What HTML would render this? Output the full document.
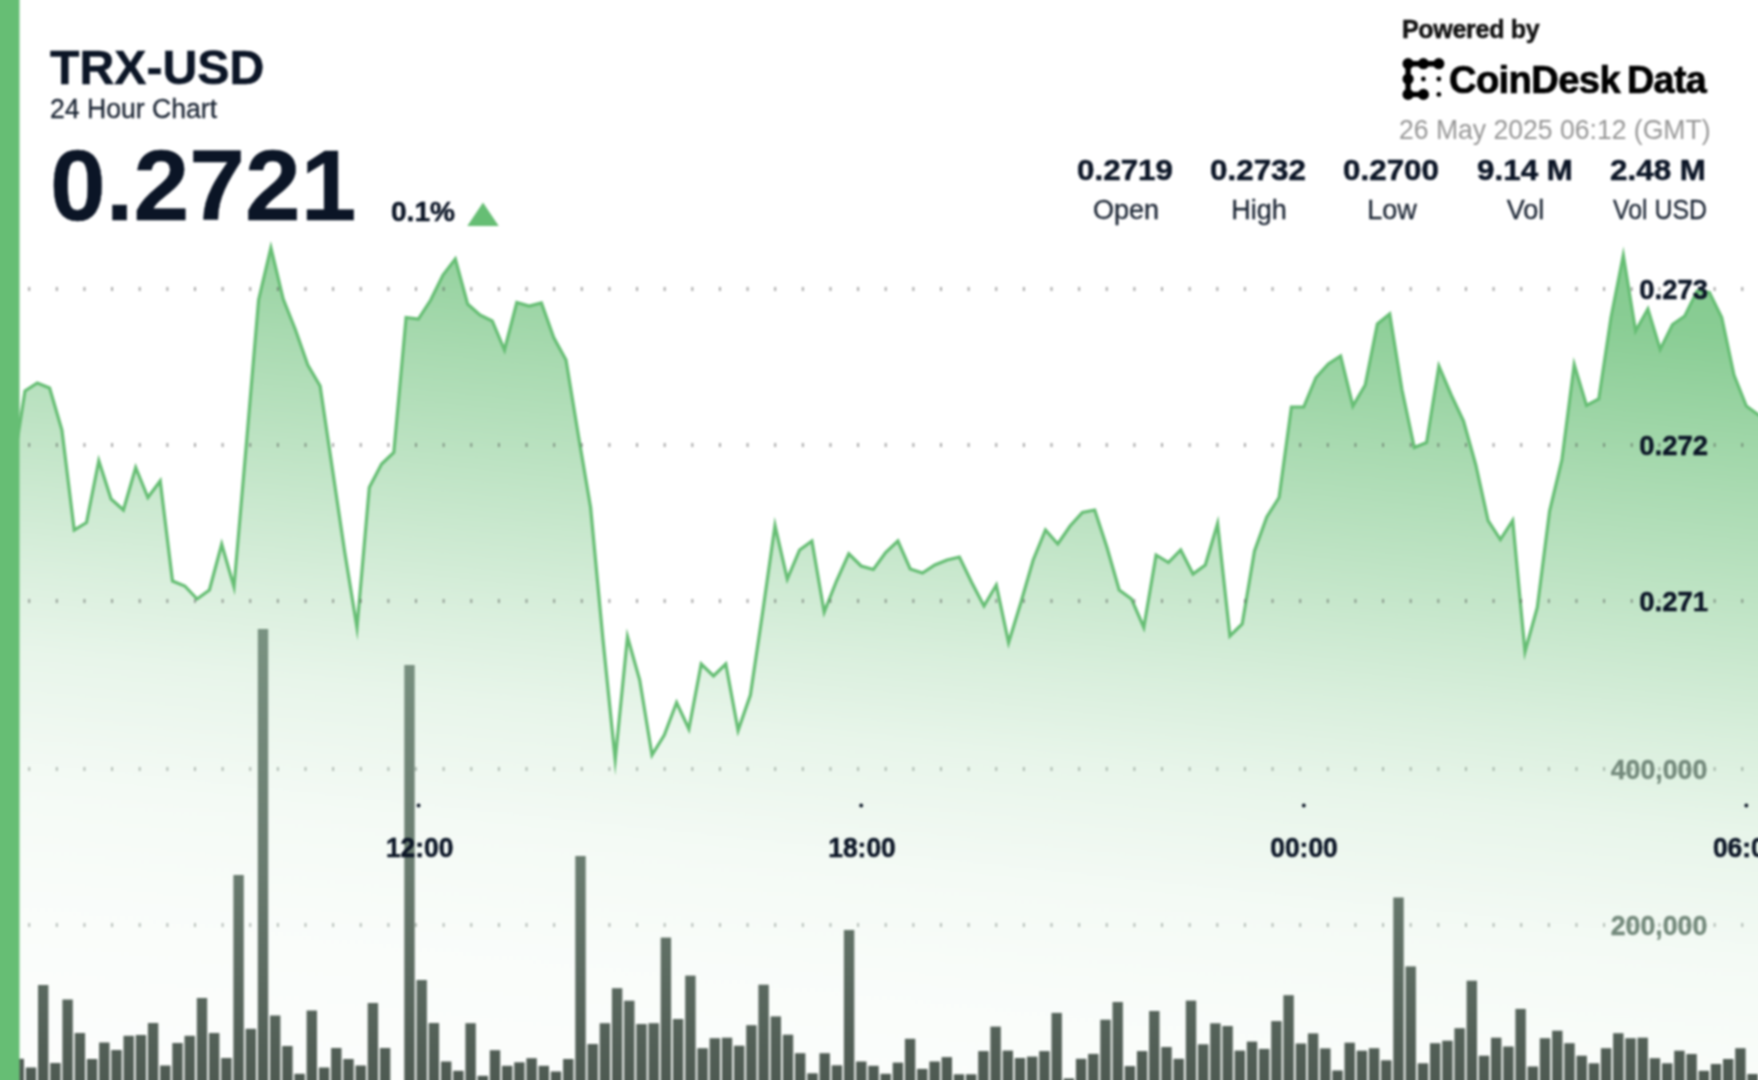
<!DOCTYPE html>
<html lang="en"><head><meta charset="utf-8"><title>TRX-USD 24 Hour Chart</title>
<style>
html,body{margin:0;padding:0;background:#fff}
body{width:1758px;height:1080px;position:relative;overflow:hidden;font-family:"Liberation Sans",sans-serif;color:#0b1526}
#wrap{position:absolute;left:-30px;top:-30px;width:1818px;height:1140px;background:#fff;filter:blur(0.8px)}
#inner{position:absolute;left:30px;top:30px;width:1758px;height:1080px}
.t{position:absolute;white-space:nowrap;line-height:1;transform-origin:0 0}
.b{font-weight:700;-webkit-text-stroke:0.5px currentColor}
.c{text-align:center;transform-origin:50% 0}
</style></head><body>
<div id="wrap"><div id="inner">
<svg width="1758" height="1080" viewBox="0 0 1758 1080" style="position:absolute;left:0;top:0;overflow:visible">
<defs>
<linearGradient id="ga" gradientUnits="userSpaceOnUse" x1="500" y1="100" x2="392.0" y2="1128.7">
<stop offset="0.0000" stop-color="#66be74" stop-opacity="0.82"/><stop offset="0.1000" stop-color="#66be74" stop-opacity="0.77"/><stop offset="0.2500" stop-color="#66be74" stop-opacity="0.56"/><stop offset="0.4269" stop-color="#66be74" stop-opacity="0.33"/><stop offset="0.4981" stop-color="#66be74" stop-opacity="0.24"/><stop offset="0.5798" stop-color="#66be74" stop-opacity="0.15"/><stop offset="0.7019" stop-color="#66be74" stop-opacity="0.07"/><stop offset="0.8173" stop-color="#66be74" stop-opacity="0.035"/><stop offset="1.0000" stop-color="#66be74" stop-opacity="0.015"/>
</linearGradient>
<linearGradient id="gb" gradientUnits="userSpaceOnUse" x1="0" y1="620" x2="0" y2="1080">
<stop offset="0" stop-color="#7a9382"/>
<stop offset="0.55" stop-color="#697b6f"/>
<stop offset="1" stop-color="#4e5a52"/>
</linearGradient>
</defs>
<path d="M12.7,470.0 L25.0,391.0 L37.3,383.0 L49.6,388.0 L61.9,430.0 L74.2,530.0 L86.5,522.5 L98.8,460.8 L111.1,499.0 L123.4,510.0 L135.7,467.5 L147.9,497.5 L160.2,481.0 L172.5,581.0 L184.8,586.0 L197.1,599.0 L209.4,590.0 L221.7,544.3 L234.0,586.9 L246.3,445.0 L258.6,300.0 L270.9,247.8 L283.2,299.0 L295.5,330.0 L307.8,365.0 L320.1,386.0 L332.4,469.0 L344.7,552.0 L357.0,627.7 L369.3,487.5 L381.6,464.0 L393.8,452.5 L406.1,317.5 L418.4,319.0 L430.7,300.0 L443.0,275.0 L455.3,259.0 L467.6,304.0 L479.9,315.0 L492.2,321.0 L504.5,350.0 L516.8,302.5 L529.1,306.0 L541.4,303.0 L553.7,337.5 L566.0,360.0 L578.3,435.0 L590.6,507.5 L602.9,639.0 L615.2,759.7 L627.5,636.9 L639.7,680.0 L652.0,755.0 L664.3,735.0 L676.6,702.5 L688.9,729.0 L701.2,664.0 L713.5,676.0 L725.8,664.0 L738.1,730.4 L750.4,695.0 L762.7,612.0 L775.0,525.6 L787.3,579.0 L799.6,550.0 L811.9,541.0 L824.2,612.2 L836.5,581.0 L848.8,553.8 L861.1,566.0 L873.4,569.5 L885.6,552.5 L897.9,541.0 L910.2,569.0 L922.5,573.0 L934.8,565.0 L947.1,560.0 L959.4,557.0 L971.7,582.5 L984.0,606.0 L996.3,585.0 L1008.6,642.7 L1020.9,602.5 L1033.2,560.0 L1045.5,530.0 L1057.8,544.0 L1070.1,526.0 L1082.4,512.5 L1094.7,510.0 L1107.0,547.5 L1119.2,590.0 L1131.5,599.0 L1143.8,627.5 L1156.1,555.0 L1168.4,562.5 L1180.7,550.0 L1193.0,574.0 L1205.3,565.0 L1217.6,523.5 L1229.9,636.0 L1242.2,624.0 L1254.5,551.0 L1266.8,517.0 L1279.1,497.5 L1291.4,407.0 L1303.7,407.0 L1316.0,377.5 L1328.3,364.0 L1340.6,356.0 L1352.9,406.0 L1365.2,385.0 L1377.4,324.0 L1389.7,314.0 L1402.0,390.0 L1414.3,447.5 L1426.6,442.5 L1438.9,366.2 L1451.2,395.0 L1463.5,421.0 L1475.8,465.0 L1488.1,520.5 L1500.4,539.5 L1512.7,520.5 L1525.0,651.8 L1537.3,607.5 L1549.6,511.0 L1561.9,460.0 L1574.2,364.6 L1586.5,405.5 L1598.8,399.0 L1611.0,317.5 L1623.3,255.4 L1635.6,331.0 L1647.9,309.0 L1660.2,349.5 L1672.5,324.5 L1684.8,316.0 L1697.1,291.0 L1709.4,292.5 L1721.7,317.5 L1734.0,375.0 L1746.3,406.0 L1758.6,415.0 L1798.6,418.0 L1798.6,418.0 L1798.6,1110 L12.7,1110 Z" fill="url(#ga)"/>
<path d="M12.7,470.0 L25.0,391.0 L37.3,383.0 L49.6,388.0 L61.9,430.0 L74.2,530.0 L86.5,522.5 L98.8,460.8 L111.1,499.0 L123.4,510.0 L135.7,467.5 L147.9,497.5 L160.2,481.0 L172.5,581.0 L184.8,586.0 L197.1,599.0 L209.4,590.0 L221.7,544.3 L234.0,586.9 L246.3,445.0 L258.6,300.0 L270.9,247.8 L283.2,299.0 L295.5,330.0 L307.8,365.0 L320.1,386.0 L332.4,469.0 L344.7,552.0 L357.0,627.7 L369.3,487.5 L381.6,464.0 L393.8,452.5 L406.1,317.5 L418.4,319.0 L430.7,300.0 L443.0,275.0 L455.3,259.0 L467.6,304.0 L479.9,315.0 L492.2,321.0 L504.5,350.0 L516.8,302.5 L529.1,306.0 L541.4,303.0 L553.7,337.5 L566.0,360.0 L578.3,435.0 L590.6,507.5 L602.9,639.0 L615.2,759.7 L627.5,636.9 L639.7,680.0 L652.0,755.0 L664.3,735.0 L676.6,702.5 L688.9,729.0 L701.2,664.0 L713.5,676.0 L725.8,664.0 L738.1,730.4 L750.4,695.0 L762.7,612.0 L775.0,525.6 L787.3,579.0 L799.6,550.0 L811.9,541.0 L824.2,612.2 L836.5,581.0 L848.8,553.8 L861.1,566.0 L873.4,569.5 L885.6,552.5 L897.9,541.0 L910.2,569.0 L922.5,573.0 L934.8,565.0 L947.1,560.0 L959.4,557.0 L971.7,582.5 L984.0,606.0 L996.3,585.0 L1008.6,642.7 L1020.9,602.5 L1033.2,560.0 L1045.5,530.0 L1057.8,544.0 L1070.1,526.0 L1082.4,512.5 L1094.7,510.0 L1107.0,547.5 L1119.2,590.0 L1131.5,599.0 L1143.8,627.5 L1156.1,555.0 L1168.4,562.5 L1180.7,550.0 L1193.0,574.0 L1205.3,565.0 L1217.6,523.5 L1229.9,636.0 L1242.2,624.0 L1254.5,551.0 L1266.8,517.0 L1279.1,497.5 L1291.4,407.0 L1303.7,407.0 L1316.0,377.5 L1328.3,364.0 L1340.6,356.0 L1352.9,406.0 L1365.2,385.0 L1377.4,324.0 L1389.7,314.0 L1402.0,390.0 L1414.3,447.5 L1426.6,442.5 L1438.9,366.2 L1451.2,395.0 L1463.5,421.0 L1475.8,465.0 L1488.1,520.5 L1500.4,539.5 L1512.7,520.5 L1525.0,651.8 L1537.3,607.5 L1549.6,511.0 L1561.9,460.0 L1574.2,364.6 L1586.5,405.5 L1598.8,399.0 L1611.0,317.5 L1623.3,255.4 L1635.6,331.0 L1647.9,309.0 L1660.2,349.5 L1672.5,324.5 L1684.8,316.0 L1697.1,291.0 L1709.4,292.5 L1721.7,317.5 L1734.0,375.0 L1746.3,406.0 L1758.6,415.0 L1798.6,418.0" fill="none" stroke="#66be74" stroke-width="3.2" stroke-linejoin="miter" stroke-miterlimit="20"/>
<line x1="28.25" x2="1790" y1="289" y2="289" stroke="#4a4a4a" stroke-opacity="0.5" stroke-width="4.2" stroke-dasharray="1.9 25.73"/>
<line x1="28.25" x2="1790" y1="445" y2="445" stroke="#4a4a4a" stroke-opacity="0.5" stroke-width="4.2" stroke-dasharray="1.9 25.73"/>
<line x1="28.25" x2="1790" y1="601" y2="601" stroke="#4a4a4a" stroke-opacity="0.5" stroke-width="4.2" stroke-dasharray="1.9 25.73"/>
<line x1="28.25" x2="1790" y1="769" y2="769" stroke="#4a5a50" stroke-opacity="0.4" stroke-width="4.2" stroke-dasharray="1.9 25.73"/>
<line x1="28.25" x2="1790" y1="925" y2="925" stroke="#4a5a50" stroke-opacity="0.4" stroke-width="4.2" stroke-dasharray="1.9 25.73"/>
<g fill="url(#gb)"><rect x="13.6" y="1058.8" width="10.4" height="51.2"/><rect x="25.8" y="1067.5" width="10.4" height="42.5"/><rect x="38.0" y="985.0" width="10.4" height="125.0"/><rect x="50.2" y="1063.0" width="10.4" height="47.0"/><rect x="62.4" y="999.5" width="10.4" height="110.5"/><rect x="74.7" y="1033.0" width="10.4" height="77.0"/><rect x="86.9" y="1059.0" width="10.4" height="51.0"/><rect x="99.1" y="1042.5" width="10.4" height="67.5"/><rect x="111.3" y="1050.0" width="10.4" height="60.0"/><rect x="123.5" y="1035.8" width="10.4" height="74.2"/><rect x="135.7" y="1035.0" width="10.4" height="75.0"/><rect x="147.9" y="1023.0" width="10.4" height="87.0"/><rect x="160.1" y="1065.5" width="10.4" height="44.5"/><rect x="172.3" y="1043.0" width="10.4" height="67.0"/><rect x="184.5" y="1035.8" width="10.4" height="74.2"/><rect x="196.8" y="998.0" width="10.4" height="112.0"/><rect x="209.0" y="1033.0" width="10.4" height="77.0"/><rect x="221.2" y="1058.0" width="10.4" height="52.0"/><rect x="233.4" y="875.0" width="10.4" height="235.0"/><rect x="245.6" y="1028.8" width="10.4" height="81.2"/><rect x="257.8" y="629.0" width="10.4" height="481.0"/><rect x="270.0" y="1015.5" width="10.4" height="94.5"/><rect x="282.2" y="1046.0" width="10.4" height="64.0"/><rect x="294.4" y="1073.8" width="10.4" height="36.2"/><rect x="306.6" y="1010.5" width="10.4" height="99.5"/><rect x="318.9" y="1067.5" width="10.4" height="42.5"/><rect x="331.1" y="1048.0" width="10.4" height="62.0"/><rect x="343.3" y="1059.0" width="10.4" height="51.0"/><rect x="355.5" y="1065.5" width="10.4" height="44.5"/><rect x="367.7" y="1003.0" width="10.4" height="107.0"/><rect x="379.9" y="1048.0" width="10.4" height="62.0"/><rect x="404.3" y="665.0" width="10.4" height="445.0"/><rect x="416.5" y="980.0" width="10.4" height="130.0"/><rect x="428.7" y="1023.0" width="10.4" height="87.0"/><rect x="441.0" y="1061.5" width="10.4" height="48.5"/><rect x="453.2" y="1070.8" width="10.4" height="39.2"/><rect x="465.4" y="1023.2" width="10.4" height="86.8"/><rect x="477.6" y="1075.8" width="10.4" height="34.2"/><rect x="489.8" y="1050.2" width="10.4" height="59.8"/><rect x="502.0" y="1065.8" width="10.4" height="44.2"/><rect x="514.2" y="1062.3" width="10.4" height="47.7"/><rect x="526.4" y="1058.2" width="10.4" height="51.8"/><rect x="538.6" y="1065.8" width="10.4" height="44.2"/><rect x="550.8" y="1071.5" width="10.4" height="38.5"/><rect x="563.1" y="1059.0" width="10.4" height="51.0"/><rect x="575.3" y="856.0" width="10.4" height="254.0"/><rect x="587.5" y="1044.0" width="10.4" height="66.0"/><rect x="599.7" y="1023.2" width="10.4" height="86.8"/><rect x="611.9" y="988.2" width="10.4" height="121.8"/><rect x="624.1" y="1000.7" width="10.4" height="109.3"/><rect x="636.3" y="1024.0" width="10.4" height="86.0"/><rect x="648.5" y="1023.2" width="10.4" height="86.8"/><rect x="660.7" y="937.6" width="10.4" height="172.4"/><rect x="672.9" y="1019.0" width="10.4" height="91.0"/><rect x="685.2" y="975.6" width="10.4" height="134.4"/><rect x="697.4" y="1048.2" width="10.4" height="61.8"/><rect x="709.6" y="1038.2" width="10.4" height="71.8"/><rect x="721.8" y="1037.7" width="10.4" height="72.3"/><rect x="734.0" y="1045.7" width="10.4" height="64.3"/><rect x="746.2" y="1025.2" width="10.4" height="84.8"/><rect x="758.4" y="984.7" width="10.4" height="125.3"/><rect x="770.6" y="1016.4" width="10.4" height="93.6"/><rect x="782.8" y="1034.7" width="10.4" height="75.3"/><rect x="795.0" y="1053.2" width="10.4" height="56.8"/><rect x="807.3" y="1073.3" width="10.4" height="36.7"/><rect x="819.5" y="1053.2" width="10.4" height="56.8"/><rect x="831.7" y="1065.3" width="10.4" height="44.7"/><rect x="843.9" y="930.0" width="10.4" height="180.0"/><rect x="856.1" y="1061.5" width="10.4" height="48.5"/><rect x="868.3" y="1065.8" width="10.4" height="44.2"/><rect x="880.5" y="1073.8" width="10.4" height="36.2"/><rect x="892.7" y="1062.6" width="10.4" height="47.4"/><rect x="904.9" y="1038.8" width="10.4" height="71.2"/><rect x="917.1" y="1068.9" width="10.4" height="41.1"/><rect x="929.4" y="1061.5" width="10.4" height="48.5"/><rect x="941.6" y="1057.1" width="10.4" height="52.9"/><rect x="953.8" y="1074.3" width="10.4" height="35.7"/><rect x="966.0" y="1074.3" width="10.4" height="35.7"/><rect x="978.2" y="1051.1" width="10.4" height="58.9"/><rect x="990.4" y="1026.6" width="10.4" height="83.4"/><rect x="1002.6" y="1050.6" width="10.4" height="59.4"/><rect x="1014.8" y="1058.0" width="10.4" height="52.0"/><rect x="1027.0" y="1056.6" width="10.4" height="53.4"/><rect x="1039.2" y="1051.1" width="10.4" height="58.9"/><rect x="1051.5" y="1012.9" width="10.4" height="97.1"/><rect x="1063.7" y="1078.4" width="10.4" height="31.6"/><rect x="1075.9" y="1058.8" width="10.4" height="51.2"/><rect x="1088.1" y="1053.9" width="10.4" height="56.1"/><rect x="1100.3" y="1019.7" width="10.4" height="90.3"/><rect x="1112.5" y="1002.0" width="10.4" height="108.0"/><rect x="1124.7" y="1066.1" width="10.4" height="43.9"/><rect x="1136.9" y="1051.1" width="10.4" height="58.9"/><rect x="1149.1" y="1011.0" width="10.4" height="99.0"/><rect x="1161.3" y="1047.0" width="10.4" height="63.0"/><rect x="1173.5" y="1058.8" width="10.4" height="51.2"/><rect x="1185.8" y="1000.6" width="10.4" height="109.4"/><rect x="1198.0" y="1044.3" width="10.4" height="65.7"/><rect x="1210.2" y="1023.3" width="10.4" height="86.7"/><rect x="1222.4" y="1026.0" width="10.4" height="84.0"/><rect x="1234.6" y="1050.6" width="10.4" height="59.4"/><rect x="1246.8" y="1041.6" width="10.4" height="68.4"/><rect x="1259.0" y="1048.9" width="10.4" height="61.1"/><rect x="1271.2" y="1021.1" width="10.4" height="88.9"/><rect x="1283.4" y="995.2" width="10.4" height="114.8"/><rect x="1295.7" y="1043.5" width="10.4" height="66.5"/><rect x="1307.9" y="1033.4" width="10.4" height="76.6"/><rect x="1320.1" y="1048.4" width="10.4" height="61.6"/><rect x="1332.3" y="1070.5" width="10.4" height="39.5"/><rect x="1344.5" y="1042.7" width="10.4" height="67.3"/><rect x="1356.7" y="1050.7" width="10.4" height="59.3"/><rect x="1368.9" y="1048.2" width="10.4" height="61.8"/><rect x="1381.1" y="1060.3" width="10.4" height="49.7"/><rect x="1393.3" y="897.5" width="10.4" height="212.5"/><rect x="1405.5" y="966.4" width="10.4" height="143.6"/><rect x="1417.8" y="1063.3" width="10.4" height="46.7"/><rect x="1430.0" y="1043.2" width="10.4" height="66.8"/><rect x="1442.2" y="1040.7" width="10.4" height="69.3"/><rect x="1454.4" y="1028.2" width="10.4" height="81.8"/><rect x="1466.6" y="980.7" width="10.4" height="129.3"/><rect x="1478.8" y="1055.7" width="10.4" height="54.3"/><rect x="1491.0" y="1037.7" width="10.4" height="72.3"/><rect x="1503.2" y="1046.5" width="10.4" height="63.5"/><rect x="1515.4" y="1008.9" width="10.4" height="101.1"/><rect x="1527.6" y="1066.5" width="10.4" height="43.5"/><rect x="1539.8" y="1038.2" width="10.4" height="71.8"/><rect x="1552.1" y="1030.7" width="10.4" height="79.3"/><rect x="1564.3" y="1043.2" width="10.4" height="66.8"/><rect x="1576.5" y="1055.7" width="10.4" height="54.3"/><rect x="1588.7" y="1063.3" width="10.4" height="46.7"/><rect x="1600.9" y="1048.2" width="10.4" height="61.8"/><rect x="1613.1" y="1033.2" width="10.4" height="76.8"/><rect x="1625.3" y="1038.2" width="10.4" height="71.8"/><rect x="1637.5" y="1037.7" width="10.4" height="72.3"/><rect x="1649.7" y="1058.2" width="10.4" height="51.8"/><rect x="1662.0" y="1063.3" width="10.4" height="46.7"/><rect x="1674.2" y="1050.7" width="10.4" height="59.3"/><rect x="1686.4" y="1054.0" width="10.4" height="56.0"/><rect x="1698.6" y="1070.8" width="10.4" height="39.2"/><rect x="1710.8" y="1064.0" width="10.4" height="46.0"/><rect x="1723.0" y="1059.0" width="10.4" height="51.0"/><rect x="1735.2" y="1048.2" width="10.4" height="61.8"/><rect x="1747.4" y="1074.0" width="10.4" height="36.0"/></g>
<g fill="#0b1526">
<circle cx="418.6" cy="805.5" r="1.9"/><circle cx="861.2" cy="805.5" r="1.9"/><circle cx="1303.8" cy="805.5" r="1.9"/><circle cx="1746.3" cy="805.5" r="1.9"/>
</g>
<g font-family="'Liberation Sans', sans-serif" font-weight="700" font-size="28" fill="#0b1526" stroke="#0b1526" stroke-width="0.5">
<text x="1708" y="298.8" text-anchor="end" textLength="68.7" lengthAdjust="spacingAndGlyphs">0.273</text>
<text x="1708" y="454.8" text-anchor="end" textLength="68.7" lengthAdjust="spacingAndGlyphs">0.272</text>
<text x="1708" y="610.8" text-anchor="end" textLength="68.7" lengthAdjust="spacingAndGlyphs">0.271</text>
<text x="419.7" y="857" text-anchor="middle" textLength="67.6" lengthAdjust="spacingAndGlyphs">12:00</text>
<text x="862" y="857" text-anchor="middle" textLength="67.6" lengthAdjust="spacingAndGlyphs">18:00</text>
<text x="1304" y="857" text-anchor="middle" textLength="67.6" lengthAdjust="spacingAndGlyphs">00:00</text>
<text x="1746.7" y="857" text-anchor="middle" textLength="67.6" lengthAdjust="spacingAndGlyphs">06:00</text>
</g>
<g font-family="'Liberation Sans', sans-serif" font-weight="700" font-size="28" fill="#748a7c" stroke="#748a7c" stroke-width="0.4">
<text x="1707.3" y="779" text-anchor="end" textLength="96.6" lengthAdjust="spacingAndGlyphs">400,000</text>
<text x="1707.3" y="935" text-anchor="end" textLength="96.6" lengthAdjust="spacingAndGlyphs">200,000</text>
</g>
<rect x="-30" y="-30" width="49.5" height="1140" fill="#66be74"/>
<!-- logo -->
<g fill="#000" stroke="#000" stroke-width="5.4" stroke-linecap="round">
<path d="M1438.8,63.7 H1408.1 V94.4 H1423.4" fill="none" stroke-linejoin="round"/>
</g>
<g fill="#000">
<circle cx="1408.1" cy="63.7" r="5.6"/><circle cx="1423.4" cy="63.7" r="5.6"/><circle cx="1438.8" cy="63.7" r="5.6"/>
<circle cx="1408.1" cy="79" r="5.6"/><circle cx="1408.1" cy="94.4" r="5.6"/><circle cx="1423.4" cy="94.4" r="5.6"/>
<circle cx="1423.4" cy="79" r="2.4"/><circle cx="1438.8" cy="79" r="2.4"/><circle cx="1438.8" cy="94.4" r="2.4"/>
</g>
<polygon points="467.3,226 498.7,226 483,202.5" fill="#66be74"/>
</svg>
<div class="t b" style="left:49.5px;top:43px;font-size:49px;transform:scaleX(0.984)">TRX-USD</div>
<div class="t " style="left:50px;top:96px;font-size:27px;color:#1a2433;-webkit-text-stroke:0.3px #1a2433;transform:scaleX(0.985)">24 Hour Chart</div>
<div class="t b" style="left:49.6px;top:135px;font-size:100px;transform:scaleX(1.002)">0.2721</div>
<div class="t b" style="left:391px;top:197px;font-size:28.5px;transform:scaleX(0.984)">0.1%</div>
<div class="t b" style="left:1402px;top:17px;font-size:25px;color:#111;letter-spacing:-0.3px;-webkit-text-stroke:0.5px #111">Powered by</div>
<div class="t b" style="left:1448.6px;top:59.5px;font-size:39px;color:#000;letter-spacing:-0.65px;-webkit-text-stroke:0.7px #000;transform:scaleX(0.979)">CoinDesk</div>
<div class="t b" style="left:1627.2px;top:59.5px;font-size:39px;color:#000;letter-spacing:-0.65px;-webkit-text-stroke:0.7px #000;transform:scaleX(0.966)">Data</div>
<div class="t " style="left:1399px;top:116px;font-size:27.5px;color:#969696;transform:scaleX(0.966)">26 May 2025 06:12 (GMT)</div>
<div class="t b c" style="left:1055px;width:140px;top:154.7px;font-size:30px;transform:scaleX(1.045)">0.2719</div>
<div class="t c" style="left:1056px;width:140px;top:197px;font-size:27px;color:#1a2433;-webkit-text-stroke:0.3px #1a2433;transform:scaleX(1)">Open</div>
<div class="t b c" style="left:1188px;width:140px;top:154.7px;font-size:30px;transform:scaleX(1.045)">0.2732</div>
<div class="t c" style="left:1189px;width:140px;top:197px;font-size:27px;color:#1a2433;-webkit-text-stroke:0.3px #1a2433;transform:scaleX(1)">High</div>
<div class="t b c" style="left:1321px;width:140px;top:154.7px;font-size:30px;transform:scaleX(1.045)">0.2700</div>
<div class="t c" style="left:1322px;width:140px;top:197px;font-size:27px;color:#1a2433;-webkit-text-stroke:0.3px #1a2433;transform:scaleX(1)">Low</div>
<div class="t b c" style="left:1454.6px;width:140px;top:154.7px;font-size:30px;transform:scaleX(1.045)">9.14 M</div>
<div class="t c" style="left:1455.6px;width:140px;top:197px;font-size:27px;color:#1a2433;-webkit-text-stroke:0.3px #1a2433;transform:scaleX(1)">Vol</div>
<div class="t b c" style="left:1588px;width:140px;top:154.7px;font-size:30px;transform:scaleX(1.045)">2.48 M</div>
<div class="t c" style="left:1589.5px;width:140px;top:197px;font-size:27px;color:#1a2433;-webkit-text-stroke:0.3px #1a2433;transform:scaleX(0.92)">Vol USD</div>
</div></div>
</body></html>
